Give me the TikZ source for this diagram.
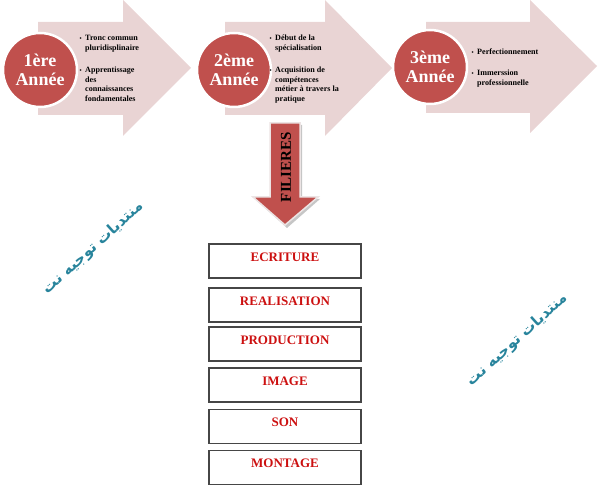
\documentclass[tikz,border=0pt]{standalone}
\usepackage{fontspec}
\setmainfont{Liberation Serif}[BoldFont={Liberation Serif Bold},ItalicFont={Liberation Serif Italic}]
\newfontfamily\arabicfont[Script=Arabic,BoldFont={DejaVu Sans Bold}]{DejaVu Sans}
\TeXXeTstate=1
\definecolor{arrowpink}{RGB}{233,212,212}
\definecolor{circred}{RGB}{192,80,77}
\definecolor{boxred}{RGB}{204,16,16}
\definecolor{teal}{RGB}{40,132,156}
\begin{document}
\begin{tikzpicture}[x=1pt,y=-1pt,
  bigarrow/.style={fill=arrowpink,draw=none},
  yearcirc/.style={circle,fill=circred,draw=white,line width=2.5pt,minimum size=74pt,inner sep=0pt,
     text=white,font=\bfseries\fontsize{18}{19.5}\selectfont,align=center},
  bl/.style={anchor=base west,inner sep=0pt,font=\bfseries\fontsize{8.1}{9.5}\selectfont},
  bul/.style={anchor=base west,inner sep=0pt,font=\bfseries\fontsize{6}{9}\selectfont},
  filbox/.style={draw={rgb,255:red,70;green,70;blue,70},line width=1.2pt,minimum width=152pt,minimum height=34pt,inner sep=0pt},
  filtext/.style={anchor=base,inner sep=0pt,text=boxred,font=\bfseries\fontsize{13}{15}\selectfont},
  wm/.style={text=teal,rotate=42,inner sep=0pt,font=\arabicfont\bfseries\fontsize{15}{18}\selectfont}
]
\useasboundingbox (0,0) rectangle (600,489);
% big arrows
\fill[bigarrow] (38,22) -- (123,22) -- (123,0) -- (191,68) -- (123,136) -- (123,115) -- (38,115) -- cycle;
\fill[bigarrow] (225,22) -- (325,22) -- (325,0) -- (392,68) -- (325,136) -- (325,115) -- (225,115) -- cycle;
\fill[bigarrow] (426,22) -- (530,22) -- (530,0) -- (597,66) -- (530,133) -- (530,113) -- (426,113) -- cycle;
% circles
\node[yearcirc] (y1) at (40,70) {1ère\\Année};
\node[yearcirc] (y2) at (234,70) {2ème\\Année};
\node[yearcirc] (y3) at (430,67) {3ème\\Année};
% bullet texts 1
\node[bul] (b1a) at (79.5,41) {\textbullet};
\node[bl] (l1a) at (85,41) {Tronc commun};
\node[bl] (l1b) at (85,51) {pluridisplinaire};
\node[bul] (b1b) at (79.5,73) {\textbullet};
\node[bl] (l1c) at (85,73) {Apprentissage};
\node[bl] (l1d) at (85,82.5) {des};
\node[bl] (l1e) at (85,92) {connaissances};
\node[bl] (l1f) at (85,101.5) {fondamentales};
% bullet texts 2
\node[bul] (b2a) at (269.5,41) {\textbullet};
\node[bl] (l2a) at (275,41) {Début de la};
\node[bl] (l2b) at (275,51) {spécialisation};
\node[bul] (b2b) at (269.5,73) {\textbullet};
\node[bl] (l2c) at (275,73) {Acquisition de};
\node[bl] (l2d) at (275,82.5) {compétences};
\node[bl] (l2e) at (275,92) {métier à travers la};
\node[bl] (l2f) at (275,101.5) {pratique};
% bullet texts 3
\node[bul] (b3a) at (471.5,55) {\textbullet};
\node[bl] (l3a) at (477,55) {Perfectionnement};
\node[bul] (b3b) at (471.5,76) {\textbullet};
\node[bl] (l3b) at (477,76) {Immerssion};
\node[bl] (l3c) at (477,86) {professionnelle};
% down arrow
\fill[gray!45] (272,125) -- (302,125) -- (302,199) -- (320,199) -- (287,228) -- (255,199) -- (272,199) -- cycle;
\filldraw[fill=circred,draw={rgb,255:red,236;green,228;blue,228},line width=1.5pt]
  (270,123) -- (300,123) -- (300,197) -- (318,197) -- (285,225) -- (253,197) -- (270,197) -- cycle;
\node[rotate=90,inner sep=0pt,font=\bfseries\fontsize{15}{17}\selectfont] (fil) at (286,167) {FILIERES};
% boxes
\node[filbox] (f1) at (285,261) {};
\node[filtext] (t1) at ([yshift=-18]f1.north) {ECRITURE};
\node[filbox] (f2) at (285,305) {};
\node[filtext] (t2) at ([yshift=-18]f2.north) {REALISATION};
\node[filbox] (f3) at (285,344) {};
\node[filtext] (t3) at ([yshift=-18]f3.north) {PRODUCTION};
\node[filbox] (f4) at (285,385) {};
\node[filtext] (t4) at ([yshift=-18]f4.north) {IMAGE};
\node[filbox] (f5) at (285,426.5) {};
\node[filtext] (t5) at ([yshift=-18]f5.north) {SON};
\node[filbox] (f6) at (285,467.5) {};
\node[filtext] (t6) at ([yshift=-18]f6.north) {MONTAGE};
% watermarks
\node[wm] (w1) at (93,248) {\beginR منتديات توجيه نت\endR};
\node[wm] (w2) at (517,340) {\beginR منتديات توجيه نت\endR};
\end{tikzpicture}
\end{document}
